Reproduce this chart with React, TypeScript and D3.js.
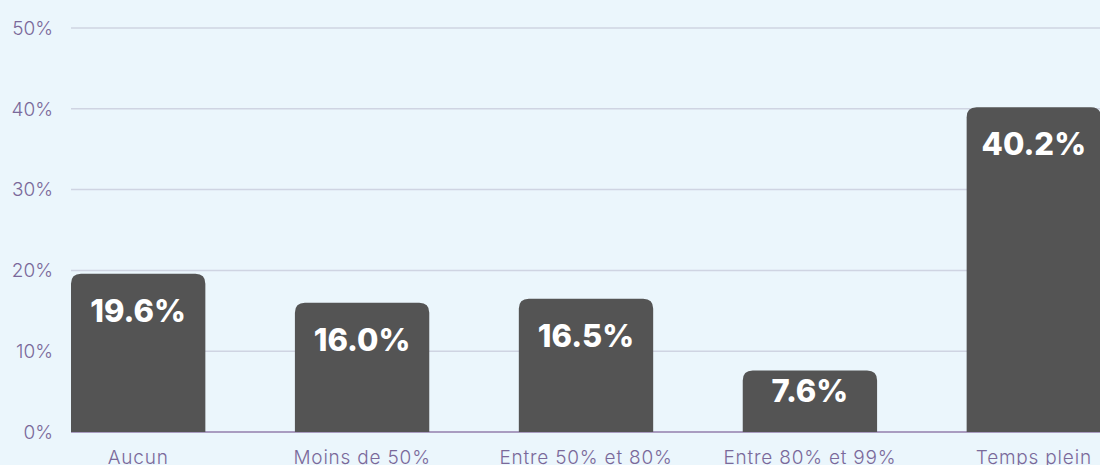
import React, { useEffect, useRef } from "react";
import * as d3 from "d3";

const categories = ["Aucun", "Moins de 50%", "Entre 50% et 80%", "Entre 80% et 99%", "Temps plein"];
const values = [19.6, 16.0, 16.5, 7.6, 40.2];
const tickValues = [0, 10, 20, 30, 40, 50];

const width = 1100;
const height = 465;
const margin = { top: 28, right: -1, bottom: 33, left: 71 };

const App = () => {
  const ref = useRef<SVGGElement | null>(null);

  useEffect(() => {
    const innerW = width - margin.left - margin.right;
    const innerH = height - margin.top - margin.bottom;
    const g = d3.select(ref.current);
    g.selectAll("*").remove();

    const x = d3.scaleBand<string>().domain(categories).range([0, innerW]).paddingInner(0.4).paddingOuter(0);
    const y = d3.scaleLinear().domain([0, 50]).range([innerH, 0]);

    // grid + tick labels
    const yAxis = g.append("g").attr("class", "yaxis");
    yAxis.selectAll("line")
      .data(tickValues.filter(d => d > 0))
      .enter().append("line")
      .attr("x1", 0)
      .attr("x2", width - margin.left)
      .attr("y1", d => y(d))
      .attr("y2", d => y(d))
      .attr("stroke", "#cfd4e2")
      .attr("stroke-width", 1.5);

    yAxis.selectAll("text")
      .data(tickValues)
      .enter().append("text")
      .attr("x", -18)
      .attr("y", d => y(d))
      .attr("dy", "0.36em")
      .attr("text-anchor", "end")
      .style("font-family", "Inter, sans-serif")
      .style("font-weight", 300)
      .style("font-size", "19px")
      .attr("fill", "#7a699a")
      .text(d => d + "%");

    // baseline
    g.append("line")
      .attr("x1", 0)
      .attr("x2", width - margin.left)
      .attr("y1", y(0))
      .attr("y2", y(0))
      .attr("stroke", "#a99cc0")
      .attr("stroke-width", 2);

    const r = 10;
    const bars = g.append("g").selectAll("g.bar")
      .data(values)
      .enter().append("g")
      .attr("class", "bar");

    bars.append("path")
      .attr("fill", "#545454")
      .attr("d", (d, i) => {
        const x0 = x(categories[i]) as number;
        const x1 = x0 + x.bandwidth();
        const top = y(d);
        const bottom = y(0);
        return `M${x0},${bottom} L${x0},${top + r} Q${x0},${top} ${x0 + r},${top} L${x1 - r},${top} Q${x1},${top} ${x1},${top + r} L${x1},${bottom} Z`;
      });

    bars.append("text")
      .attr("x", (d, i) => (x(categories[i]) as number) + x.bandwidth() / 2)
      .attr("y", d => y(d) + Math.min(37, (y(0) - y(d)) * 0.33))
      .attr("dy", "0.36em")
      .attr("text-anchor", "middle")
      .style("font-family", "Inter, sans-serif")
      .style("font-weight", 800)
      .style("font-size", "31px")
      .attr("fill", "#ffffff")
      .text(d => d.toFixed(1) + "%");

    g.append("g").selectAll("text")
      .data(categories)
      .enter().append("text")
      .attr("x", d => (x(d) as number) + x.bandwidth() / 2)
      .attr("y", innerH + 32)
      .attr("text-anchor", "middle")
      .style("font-family", "Inter, sans-serif")
      .style("font-weight", 300)
      .style("font-size", "19px")
      .style("letter-spacing", "0.8px")
      .attr("fill", "#7a699a")
      .text(d => d);
  }, []);

  return (
    <svg width={width} height={height} style={{ position: "fixed", left: 0, top: 0, background: "#ebf6fc" }}>
      <g ref={ref} transform={`translate(${margin.left},${margin.top})`}></g>
    </svg>
  );
};

export default App;
